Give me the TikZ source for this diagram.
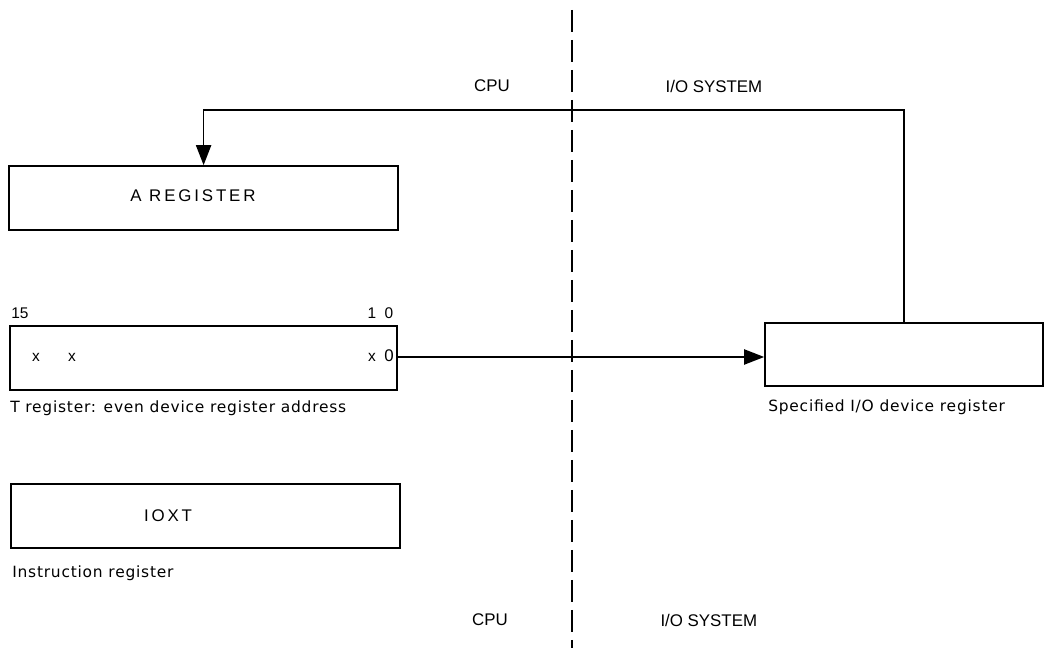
\documentclass[tikz,border=0pt]{standalone}
\usepackage{fontspec}
\setmainfont{Liberation Sans}
\newfontfamily\wideface[LetterSpace=17]{Liberation Sans}
\newfontfamily\capface[LetterSpace=5]{DejaVu Sans}
\usetikzlibrary{arrows.meta}
\tikzset{
  regbox/.style={draw,line width=1.2pt,minimum height=1.6cm,inner sep=0pt},
  arr/.style={line width=1pt,-{Triangle[length=0.5cm,width=0.38cm]}},
  side/.style={font=\fontsize{12}{14}\selectfont},
  caption/.style={anchor=west,inner sep=0pt,font=\capface\fontsize{11}{13}\selectfont},
  bit/.style={inner sep=0pt,font=\fontsize{11}{13}\selectfont}
}
\begin{document}
\begin{tikzpicture}
\useasboundingbox (0,0) rectangle (26.15,16.2);
%\draw[step=1cm,gray,very thin] (0,0) grid (26,16); %background grid
\draw[line width=0.8pt,dash pattern=on 0.55cm off 0.2cm] (14.3,15.95) -- (14.3,0);
\node[side] (cputop) at (12.3,14.05) {CPU};
\node[side] (iotop) at (17.85,14.05) {I/O SYSTEM};
\node[side] (cpubot) at (12.25,0.7) {CPU};
\node[side] (iobot) at (17.72,0.7) {I/O SYSTEM};
% registers
\node[regbox,minimum width=9.725cm] (areg) at (5.09,11.25) {};
\node[font=\wideface\fontsize{12}{14}\selectfont] (atext) at (4.825,11.3) {A REGISTER};
\node[regbox,minimum width=9.675cm] (treg) at (5.09,7.25) {};
\node[bit] (b15) at (0.5,8.375) {15};
\node[bit] (b1) at (9.3,8.375) {1};
\node[bit] (b0) at (9.725,8.375) {0};
\node[bit] (x15) at (0.9,7.275) {x};
\node[bit] (x14) at (1.8,7.275) {x};
\node[bit] (x1) at (9.3,7.275) {x};
\node[bit,font=\fontsize{12}{14}\selectfont] (x0) at (9.725,7.3) {0};
\node[caption] (tlabel) at (0.25,6.0) {T register: even device register address};
\node[regbox,minimum width=9.725cm] (ioxt) at (5.14,3.3) {};
\node[font=\wideface\fontsize{12}{14}\selectfont] (ioxttext) at (4.2,3.3) {IOXT};
\node[caption] (ilabel) at (0.3,1.875) {Instruction register};
\node[regbox,minimum width=6.95cm,minimum height=1.575cm] (dev) at (22.6,7.34) {};
\node[caption] (dlabel) at (19.2,6.025) {Specified I/O device register};
% connections
\coordinate (bend) at (0,13.45);
\draw[arr] (treg.east |- 0,7.275) -- (dev.west |- 0,7.275);
\draw[arr] (dev.north) |- (areg.north |- bend) -- (areg.north);
\end{tikzpicture}
\end{document}
